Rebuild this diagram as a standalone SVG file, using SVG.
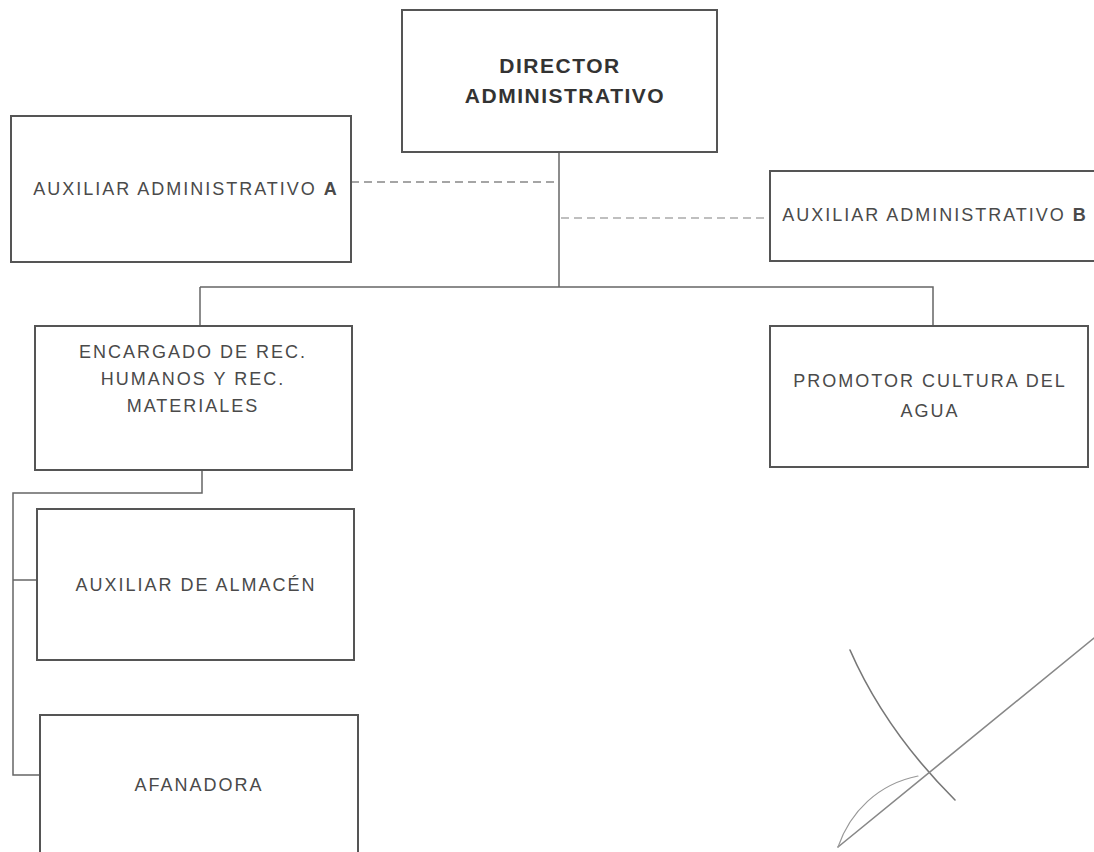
<svg xmlns="http://www.w3.org/2000/svg" width="1094" height="852" viewBox="0 0 1094 852">
<style>
.box{fill:#fff;stroke:#555;stroke-width:2}
.lbl{font-family:"Liberation Sans",Arial,sans-serif;font-size:18px;letter-spacing:2px;fill:#4a4a4a;text-anchor:middle}
.ttl{font-family:"Liberation Sans",Arial,sans-serif;font-size:21px;font-weight:bold;letter-spacing:1.5px;fill:#333;text-anchor:middle}
.ln{fill:none;stroke:#666;stroke-width:1.5}
.dash{fill:none;stroke:#888;stroke-width:1.5;stroke-dasharray:8 5}
.sig{fill:none;stroke:#777;stroke-width:1.6;stroke-linecap:round}
</style>
<rect width="1094" height="852" fill="#fff"/>
<g id="connectors">
<path class="ln" d="M559,152 V287"/>
<path class="ln" d="M200,287 H933 V326"/>
<path class="ln" d="M200,287 V326"/>
<path class="dash" d="M351,182 H557"/>
<path class="dash" d="M561,218 H770" style="stroke:#aaa"/>
<path class="ln" d="M202,470 V493 H13 V775 H40"/>
<path class="ln" d="M13,580 H37"/>
</g>
<g id="director">
<rect class="box" x="402" y="10" width="315" height="142"/>
<text class="ttl" x="560" y="73">DIRECTOR</text>
<text class="ttl" x="565" y="103">ADMINISTRATIVO</text>
</g>
<g id="aux-a">
<rect class="box" x="11" y="116" width="340" height="146"/>
<text class="lbl" x="186" y="195">AUXILIAR ADMINISTRATIVO <tspan font-weight="bold">A</tspan></text>
</g>
<g id="aux-b">
<rect class="box" x="770" y="171" width="340" height="90"/>
<text class="lbl" x="935" y="221">AUXILIAR ADMINISTRATIVO <tspan font-weight="bold">B</tspan></text>
</g>
<g id="encargado">
<rect class="box" x="35" y="326" width="317" height="144"/>
<text class="lbl" x="193" y="358">ENCARGADO DE REC.</text>
<text class="lbl" x="193" y="385">HUMANOS Y REC.</text>
<text class="lbl" x="193" y="412">MATERIALES</text>
</g>
<g id="promotor">
<rect class="box" x="770" y="326" width="318" height="141"/>
<text class="lbl" x="930" y="387">PROMOTOR CULTURA DEL</text>
<text class="lbl" x="930" y="417">AGUA</text>
</g>
<g id="aux-almacen">
<rect class="box" x="37" y="509" width="317" height="151"/>
<text class="lbl" x="196" y="591">AUXILIAR DE ALMACÉN</text>
</g>
<g id="afanadora">
<rect class="box" x="40" y="715" width="318" height="160"/>
<text class="lbl" x="199" y="791">AFANADORA</text>
</g>
<g id="signature">
<path class="sig" d="M850,650 Q885,730 955,800"/>
<path class="sig" d="M1094,638 L838,847" style="stroke:#888"/>
<path class="sig" d="M838,847 C850,812 878,784 918,776" style="stroke:#999;stroke-width:1.2"/>
</g>
</svg>
